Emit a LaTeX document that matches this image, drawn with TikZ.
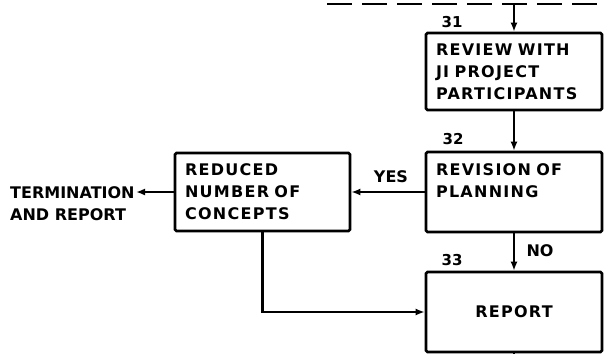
\documentclass[tikz,border=0pt]{standalone}
\usepackage{fontspec}
\setmainfont{DejaVu Sans}
\usetikzlibrary{arrows.meta}
\begin{document}
\begin{tikzpicture}[x=1pt, y=-1pt,
  box/.style={draw, line width=2.6pt, rounded corners=1.5pt, align=left, text width=156pt, inner xsep=10pt, inner ysep=0pt, font=\bfseries\fontsize{16}{22}\selectfont\addfontfeature{LetterSpace=8}},
  lbl/.style={font=\bfseries\fontsize{16}{22}\selectfont, inner sep=0pt},
  num/.style={font=\bfseries\fontsize{15}{15}\selectfont, inner sep=0pt},
  wire/.style={line width=2.6pt},
  flow/.style={wire, -{Latex[length=9pt,width=7pt]}}]
\useasboundingbox (0,0) rectangle (604,354);
% boxes
\node[box, minimum height=77pt] (review) at (514,71.5) {REVIEW WITH\\JI PROJECT\\PARTICIPANTS};
\node[box, minimum height=80pt] (revision) at (514,192) {REVISION OF\\PLANNING\\\mbox{}};
\node[box, minimum height=80pt, align=center] (report) at (514,312) {REPORT};
\node[box, text width=155pt, minimum height=78pt] (reduced) at (262.5,192) {REDUCED\\NUMBER OF\\CONCEPTS};
% labels
\node[num] (n31) at (452,22) {31};
\node[num] (n32) at (453,139) {32};
\node[num] (n33) at (452,260) {33};
\node[lbl] (yes) at (391,177) {YES};
\node[lbl] (no) at (540,251) {NO};
\node[lbl, align=left, anchor=north west] (term) at (10,186) {TERMINATION\\AND REPORT};
\coordinate (dashL) at (327,4);
\coordinate (dashR) at (604,4);
\coordinate (termEnd) at (136,192);
\coordinate (outEnd) at (514,354);
% connectors
\draw[wire, dash pattern=on 25pt off 10pt] (dashL) -- (dashR);
\draw[flow] (review.north |- dashL) -- (review.north);
\draw[flow] (review) -- (revision);
\draw[flow] (revision) -- (report);
\draw[flow] (revision) -- (reduced);
\draw[flow] (reduced) -- (termEnd);
\draw[flow] (reduced) |- (report);
\draw[wire] (report) -- (outEnd);
\end{tikzpicture}
\end{document}
